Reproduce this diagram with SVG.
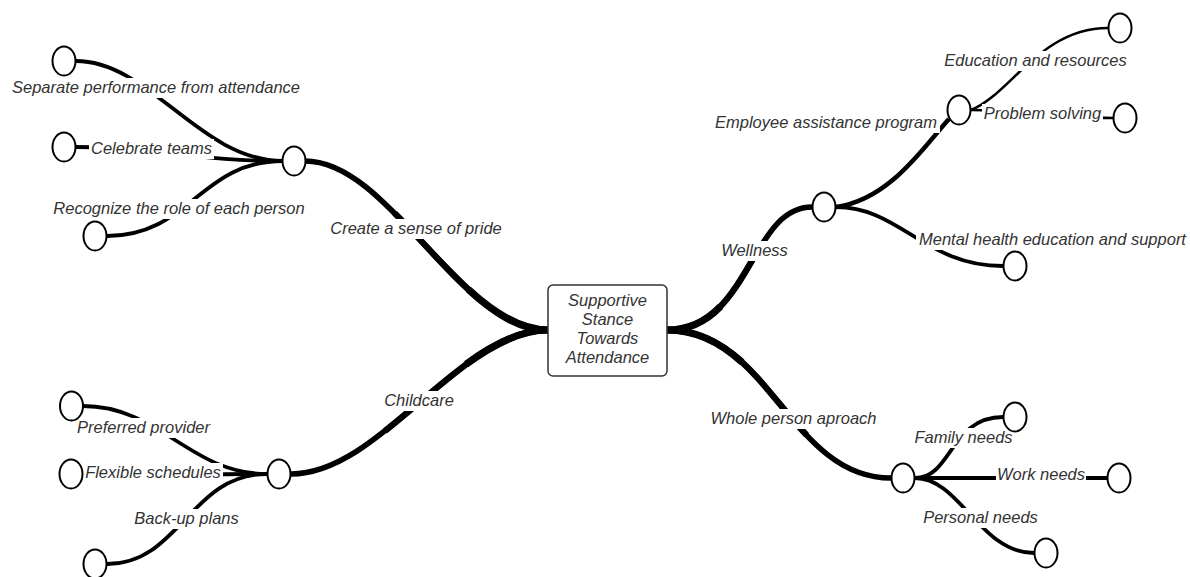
<svg xmlns="http://www.w3.org/2000/svg" width="1190" height="577" viewBox="0 0 1190 577">
<style>
.c{fill:none;stroke:#000;stroke-linecap:butt}
.m{stroke-width:5.5}
.m6{stroke-width:6.3;stroke-dasharray:65 200}
.m7{stroke-width:7.2;stroke-dasharray:30 200}
.l{stroke-width:3.8}
.t{stroke-width:2.6}
.lb{fill:#fff}
.tx{font-family:"Liberation Sans",Arial,sans-serif;font-style:italic;font-size:16.5px;fill:#333;text-anchor:middle}
.n{fill:#fff;stroke:#000;stroke-width:2}
.box{fill:#fff;stroke:#333;stroke-width:1.5}
</style>
<g id="connectors">
<g id="main-branches">
<path class="c m" pathLength="100" d="M548,330 C460,330 390,161 305,161"/>
<path class="c m6" pathLength="100" d="M548,330 C460,330 390,161 305,161"/>
<path class="c m7" pathLength="100" d="M548,330 C460,330 390,161 305,161"/>
<path class="c m" pathLength="100" d="M548,330 C460,330 380,474 291,474"/>
<path class="c m6" pathLength="100" d="M548,330 C460,330 380,474 291,474"/>
<path class="c m7" pathLength="100" d="M548,330 C460,330 380,474 291,474"/>
<path class="c m" pathLength="100" d="M667,330 C750,330 750,207 812,207"/>
<path class="c m6" pathLength="100" d="M667,330 C750,330 750,207 812,207"/>
<path class="c m7" pathLength="100" d="M667,330 C750,330 750,207 812,207"/>
<path class="c m" pathLength="100" d="M667,330 C770,330 790,478 891,478"/>
<path class="c m6" pathLength="100" d="M667,330 C770,330 790,478 891,478"/>
<path class="c m7" pathLength="100" d="M667,330 C770,330 790,478 891,478"/>
</g>
<path class="c l" d="M283,161 C200,161 150,61 76,61"/>
<path class="c l" d="M283,161 C190,161 170,147 76,147"/>
<path class="c l" d="M283,161 C200,161 190,236 107,236"/>
<path class="c l" d="M267,474 C190,474 160,406 83,406"/>
<path class="c l" d="M267,474 C180,474 160,476 82,474"/>
<path class="c l" d="M267,474 C190,474 180,564 107,564"/>
<path class="c" stroke-width="4.6" d="M836,207 C890,200 925,145 949,119"/>
<path class="c l" d="M836,207 C900,207 925,266 1003,266"/>
<path class="c t" d="M971,110 C1010,95 1040,28 1108,28"/>
<path class="c t" d="M971,110 C1040,110 1050,118 1113,118"/>
<path class="c l" d="M915,478 C952,478 950,417 1003,417"/>
<path class="c l" d="M915,478 L1107,478"/>
<path class="c l" d="M915,478 C960,478 980,553 1034,553"/>
<g id="labels">
<rect class="lb" x="8" y="78" width="296" height="20"/>
<text class="tx" x="156" y="93">Separate performance from attendance</text>
<rect class="lb" x="89" y="139" width="125" height="20"/>
<text class="tx" x="151.5" y="154">Celebrate teams</text>
<rect class="lb" x="51" y="199" width="256" height="20"/>
<text class="tx" x="179" y="214">Recognize the role of each person</text>
<rect class="lb" x="328" y="219" width="176" height="20"/>
<text class="tx" x="416" y="234">Create a sense of pride</text>
<rect class="lb" x="383" y="391" width="72" height="20"/>
<text class="tx" x="419" y="406">Childcare</text>
<rect class="lb" x="75" y="418" width="137" height="20"/>
<text class="tx" x="143.5" y="433">Preferred provider</text>
<rect class="lb" x="83" y="463" width="140" height="20"/>
<text class="tx" x="153" y="478">Flexible schedules</text>
<rect class="lb" x="133" y="509" width="107" height="20"/>
<text class="tx" x="186.5" y="524">Back-up plans</text>
<rect class="lb" x="720" y="241" width="69" height="20"/>
<text class="tx" x="754.5" y="256">Wellness</text>
<rect class="lb" x="708" y="409" width="171" height="20"/>
<text class="tx" x="793.5" y="424">Whole person aproach</text>
<rect class="lb" x="712" y="113" width="228" height="20"/>
<text class="tx" x="826" y="128">Employee assistance program</text>
<rect class="lb" x="942" y="51" width="187" height="20"/>
<text class="tx" x="1035.5" y="66">Education and resources</text>
<rect class="lb" x="982" y="104" width="121" height="20"/>
<text class="tx" x="1042.5" y="119">Problem solving</text>
<rect class="lb" x="916" y="230" width="273" height="20"/>
<text class="tx" x="1052.5" y="245">Mental health education and support</text>
<rect class="lb" x="913" y="428" width="101" height="20"/>
<text class="tx" x="963.5" y="443">Family needs</text>
<rect class="lb" x="996" y="465" width="90" height="20"/>
<text class="tx" x="1041" y="480">Work needs</text>
<rect class="lb" x="922" y="508" width="117" height="20"/>
<text class="tx" x="980.5" y="523">Personal needs</text>
</g>
</g>
<g id="center">
<rect class="box" x="548" y="285" width="119" height="91" rx="5"/>
<text class="tx" x="607.5" y="306">Supportive</text>
<text class="tx" x="607.5" y="325">Stance</text>
<text class="tx" x="607.5" y="344">Towards</text>
<text class="tx" x="607.5" y="363">Attendance</text>
</g>
<g id="pride"><ellipse class="n" cx="294" cy="161" rx="11.5" ry="14.5"/></g>
<g id="separate"><ellipse class="n" cx="64" cy="61" rx="11.5" ry="14.5"/></g>
<g id="celebrate"><ellipse class="n" cx="64" cy="147" rx="11.5" ry="14.5"/></g>
<g id="recognize"><ellipse class="n" cx="95" cy="236" rx="11.5" ry="14.5"/></g>
<g id="childcare"><ellipse class="n" cx="279" cy="474" rx="11.5" ry="14.5"/></g>
<g id="preferred"><ellipse class="n" cx="71.5" cy="406" rx="11.5" ry="14.5"/></g>
<g id="flexible"><ellipse class="n" cx="71" cy="474" rx="11.5" ry="14.5"/></g>
<g id="backup"><ellipse class="n" cx="95" cy="564" rx="11.5" ry="14.5"/></g>
<g id="wellness"><ellipse class="n" cx="824" cy="207" rx="11.5" ry="14.5"/></g>
<g id="eap"><ellipse class="n" cx="959" cy="110" rx="11.5" ry="14.5"/></g>
<g id="education"><ellipse class="n" cx="1120" cy="28" rx="11.5" ry="14.5"/></g>
<g id="problem"><ellipse class="n" cx="1125" cy="118" rx="11.5" ry="14.5"/></g>
<g id="mental"><ellipse class="n" cx="1015" cy="266" rx="11.5" ry="14.5"/></g>
<g id="wholeperson"><ellipse class="n" cx="903" cy="478" rx="11.5" ry="14.5"/></g>
<g id="family"><ellipse class="n" cx="1015" cy="417" rx="11.5" ry="14.5"/></g>
<g id="work"><ellipse class="n" cx="1119" cy="478" rx="11.5" ry="14.5"/></g>
<g id="personal"><ellipse class="n" cx="1046" cy="553" rx="11.5" ry="14.5"/></g>
</svg>
